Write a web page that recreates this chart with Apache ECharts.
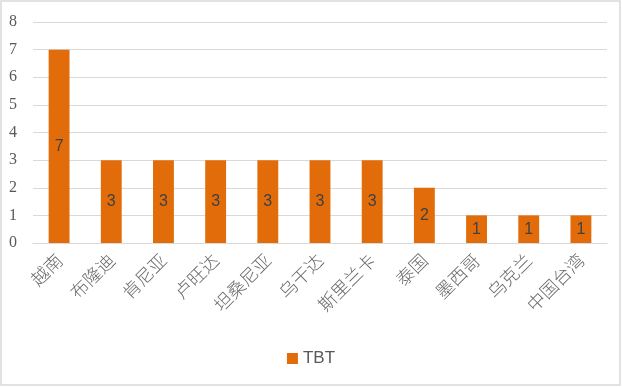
<!DOCTYPE html>
<html><head><meta charset="utf-8">
<script src="https://cdn.jsdelivr.net/npm/echarts@6/dist/echarts.min.js"></script>
<style>html,body{margin:0;padding:0;background:#fff}#c{width:622px;height:387px}</style>
</head><body><div id="c"></div>
<script>
const categories = ['越南','布隆迪','肯尼亚','卢旺达','坦桑尼亚','乌干达','斯里兰卡','泰国','墨西哥','乌克兰','中国台湾'];
const tbtValues = [7,3,3,3,3,3,3,2,1,1,1];
const seriesName = 'TBT';
const chart = echarts.init(document.getElementById('c'));
chart.setOption({
  animation:false,
  graphic:[{type:'rect',shape:{x:1,y:1,width:619,height:384},style:{fill:'none',stroke:'#d9d9d9',lineWidth:1.5}}],
  grid:{left:33,right:15,top:22,bottom:144},
  legend:{top:345,left:'center',itemWidth:11,itemHeight:11,icon:'rect',itemGap:4,
    textStyle:{fontFamily:'Liberation Sans Narrow, Liberation Sans',fontSize:17,color:'#595959'},data:[seriesName]},
  xAxis:{type:'category',data:categories,
    axisLine:{lineStyle:{color:'#d9d9d9'}},axisTick:{show:false},
    axisLabel:{rotate:45,interval:0,margin:14,fontSize:18,color:'#6a6a6a',fontFamily:'Noto Sans CJK SC',fontWeight:300}},
  yAxis:{type:'value',min:0,max:8,interval:1,
    axisLine:{show:false},axisTick:{show:false},
    splitLine:{lineStyle:{color:'#d9d9d9',width:1}},
    axisLabel:{margin:16,fontSize:16,color:'#595959',fontFamily:'Liberation Serif'}},
  series:[{name:seriesName,type:'bar',data:tbtValues,barWidth:'40%',
    itemStyle:{color:'#e36c0a'},
    label:{show:true,position:'inside',fontSize:16,color:'#404040',fontFamily:'Liberation Sans'}}]
});
</script></body></html>
